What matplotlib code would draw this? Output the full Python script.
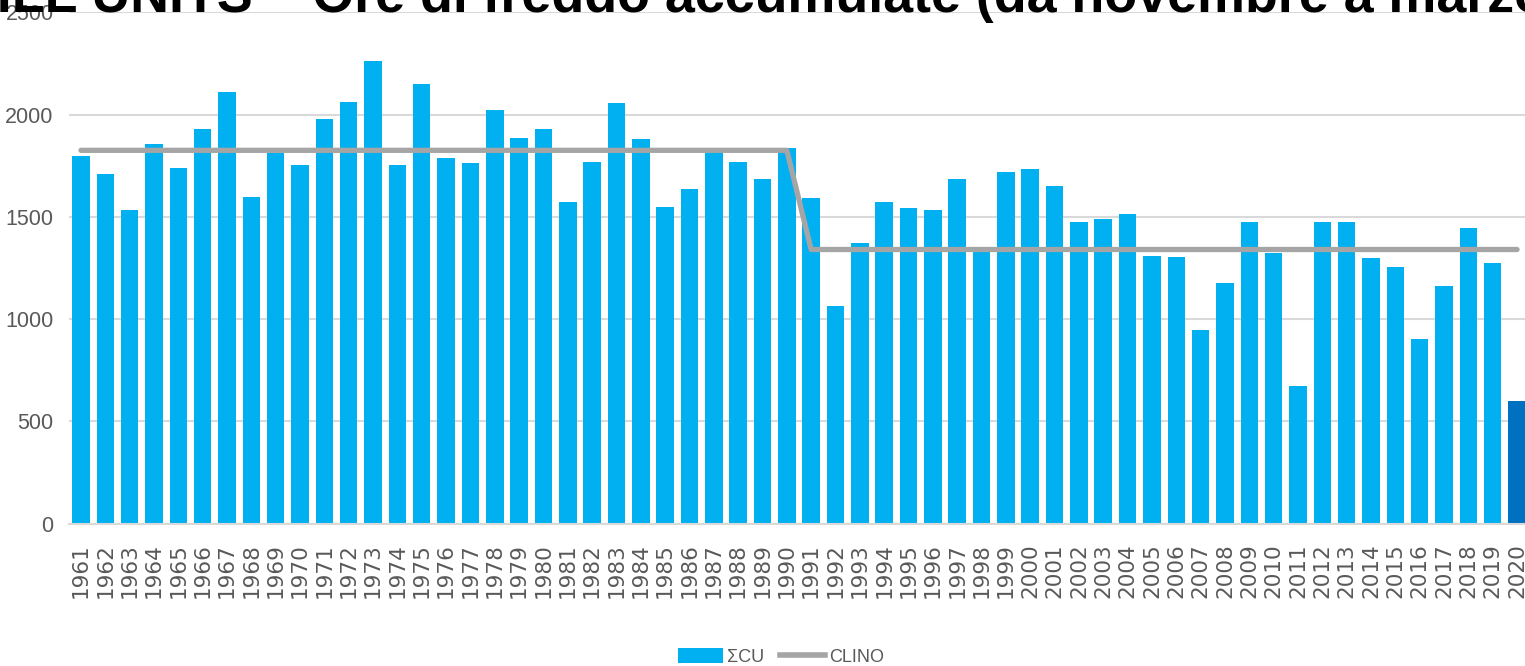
import matplotlib
matplotlib.use('Agg')
import matplotlib.pyplot as plt
from matplotlib import font_manager
from matplotlib.patches import Patch
from matplotlib.lines import Line2D

# ---------------- data ----------------
years = list(range(1961, 2021))
chill_units = [1795, 1707, 1533, 1856, 1740, 1928, 2112, 1595, 1810, 1753,
               1977, 2063, 2260, 1753, 2151, 1786, 1761, 2024, 1887, 1928,
               1574, 1769, 2055, 1880, 1549, 1636, 1815, 1769, 1683, 1835,
               1590, 1065, 1370, 1574, 1544, 1533, 1683, 1335, 1720, 1732,
               1652, 1476, 1487, 1512, 1310, 1303, 946, 1178, 1476, 1325,
               672, 1476, 1476, 1297, 1256, 901, 1163, 1447, 1272, 599]
clino_periods = [(1961, 1990, 1825), (1991, 2020, 1340)]
title_text = "CHILL UNITS – Ore di freddo accumulate (da novembre a marzo)"
legend_labels = ["ΣCU", "CLINO"]
y_ticks = [0, 500, 1000, 1500, 2000, 2500]

clino = []
for y in years:
    for a, b, v in clino_periods:
        if a <= y <= b:
            clino.append(v)

# ---------------- fonts ----------------
names = {f.name for f in font_manager.fontManager.ttflist}
narrow = 'Liberation Sans Narrow' if 'Liberation Sans Narrow' in names else 'Liberation Sans'
is_narrow = narrow == 'Liberation Sans Narrow'

W, H = 1525, 666
fig = plt.figure(figsize=(W / 100, H / 100), dpi=100)
left_px, right_px = 68.8, 1529.2
bot_px, top_px = 523.5, 12.3
ax = fig.add_axes([left_px / W, 1 - bot_px / H, (right_px - left_px) / W, (bot_px - top_px) / H])

x = list(range(len(years)))
colors = ['#00B0F0'] * (len(years) - 1) + ['#0070C0']
ax.bar(x, chill_units, width=0.72, color=colors, zorder=2)
ax.plot(x, clino, color='#A5A5A5', lw=3.8, zorder=3, solid_capstyle='round')

ax.set_xlim(-0.5, len(years) - 0.5)
ax.set_ylim(0, 2500)
ax.set_yticks(y_ticks)
ax.set_yticklabels([str(t) for t in y_ticks], family=narrow,
                   fontsize=17 if is_narrow else 15.5, color='#595959')
ax.set_xticks(x)
ax.set_xticklabels([str(y) for y in years], rotation=90, fontsize=15.5,
                   family='DejaVu Sans', color='#595959')
ax.tick_params(axis='y', length=0, pad=11)
ax.tick_params(axis='x', length=0, pad=14)
for s in ['top', 'right', 'left']:
    ax.spines[s].set_visible(False)
ax.spines['bottom'].set_color('#D9D9D9')
ax.spines['bottom'].set_linewidth(1.5)
ax.yaxis.grid(True, color='#D9D9D9', lw=1.5, zorder=0)
ax.set_axisbelow(True)

# ---------------- title (cropped as in the source) ----------------
fig.canvas.draw()
r = fig.canvas.get_renderer()
probe = fig.text(0, 0, "LL UNITS – Ore di freddo accumulate (da novembre a marz",
                 fontsize=10, family=narrow, weight='bold')
w10 = probe.get_window_extent(r).width
probe.remove()
fs = 10 * (1515 - 12) / w10
probe = fig.text(0, 0, "CHI", fontsize=fs, family=narrow, weight='bold')
wpre = probe.get_window_extent(r).width
probe.remove()
fig.text((12 - wpre) / W, 1 - 12 / H, title_text, fontsize=fs, family=narrow,
         weight='bold', color='black', va='baseline', ha='left', zorder=10)

# ---------------- legend ----------------
lfs = 16 if is_narrow else 13
handles = [Patch(facecolor='#00B0F0', edgecolor='none'),
           Line2D([0], [0], color='#A5A5A5', lw=4)]
fig.legend(handles, legend_labels, loc='center', bbox_to_anchor=(0.512, 0.014),
           ncol=2, frameon=False, prop={'family': narrow, 'size': lfs},
           handlelength=2.5, handleheight=0.9, handletextpad=0.2, columnspacing=0.9,
           labelcolor='#595959')

fig.savefig('out.png', dpi=100)
